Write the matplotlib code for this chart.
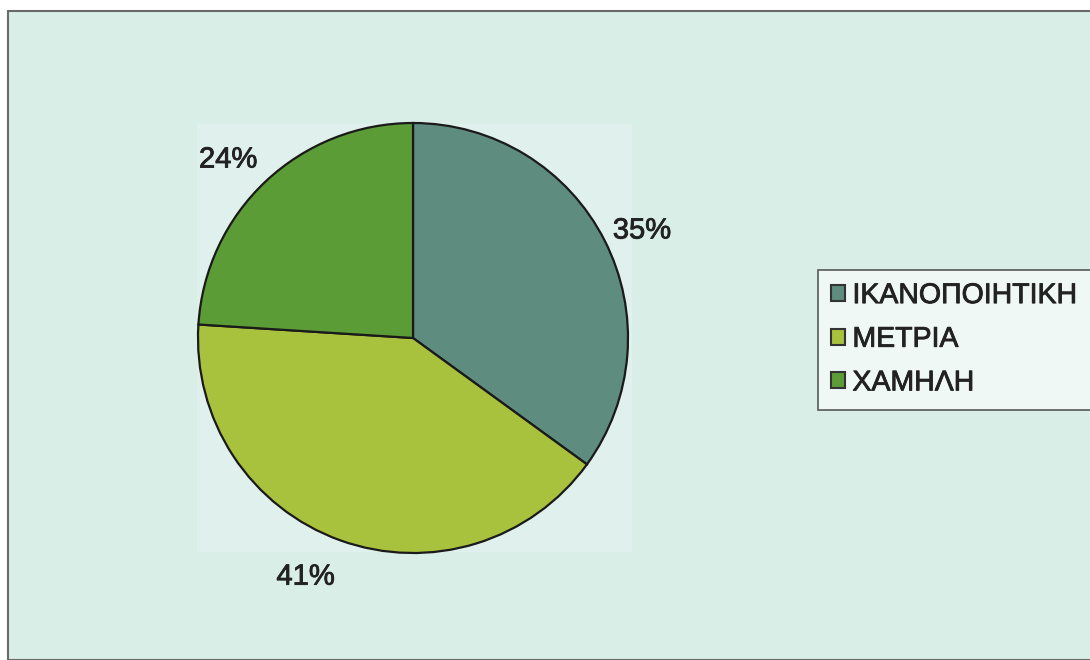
import matplotlib.pyplot as plt
import matplotlib.patheffects as pe
from matplotlib.patches import Rectangle

plt.rcParams['font.family'] = ['Liberation Sans', 'DejaVu Sans']

# ------ data -----
labels = ['ΙΚΑΝΟΠΟΙΗΤΙΚΗ', 'ΜΕΤΡΙΑ', 'ΧΑΜΗΛΗ']
shares = [35, 41, 24]
colors = ['#5e8c7e', '#a8c23e', '#5c9c36']
# where each % label sits, in pie-radius units
label_xy = [(1.065, 0.50), (-0.50, -1.11), (-0.86, 0.83)]

W, H = 1090, 660
fig = plt.figure(figsize=(W/100, H/100), dpi=100, facecolor='white')
semibold = [pe.withStroke(linewidth=0.6, foreground='#222222')]

# chart area (mint background with grey frame, runs off right/bottom)
fig.patches.append(Rectangle((8/W, 0), 1.2, 1 - 11/H, transform=fig.transFigure,
                             facecolor='#d8eee7', edgecolor='#6a6a6a', linewidth=1.5,
                             zorder=-2))
# slightly lighter plot area behind the pie
fig.patches.append(Rectangle((197/W, 1 - 552/H), 435/W, 428/H, transform=fig.transFigure,
                             facecolor='#e0f0ec', edgecolor='none', zorder=-1))

# pie: centre (413, 338) px, radius 215 px
r = 215
ax = fig.add_axes([(413 - r)/W, (H - 338 - r)/H, 2*r/W, 2*r/H])
ax.set_zorder(1)
wedges, _, autotexts = ax.pie(shares, colors=colors, startangle=90, counterclock=False,
                              autopct='%d%%', pctdistance=1.2, radius=1,
                              wedgeprops=dict(edgecolor='#1a1a1a', linewidth=1.6))
for t, xy in zip(autotexts, label_xy):
    t.set_position(xy)
    t.set_fontsize(21)
    t.set_color('#222222')
    t.set_path_effects(semibold)
ax.set_xlim(-1, 1)
ax.set_ylim(-1, 1)
ax.set_aspect('auto')
ax.axis('off')

leg = fig.legend(wedges, labels, loc='upper left',
                 bbox_to_anchor=(818/W, 1 - 270/H), borderaxespad=0,
                 fontsize=20.5, frameon=True, fancybox=False,
                 handlelength=0.5, handleheight=0.5, handletextpad=0.25,
                 labelspacing=0.62, borderpad=0.46)
leg.set_zorder(2)
leg.get_frame().set_edgecolor('#333333')
leg.get_frame().set_facecolor('#f6fbf9')
leg.get_frame().set_linewidth(1.2)
for h in leg.legend_handles:
    h.set_edgecolor('#333333')
    h.set_linewidth(1.5)
for t in leg.get_texts():
    t.set_color('#222222')
    t.set_path_effects(semibold)

fig.savefig('out.png', dpi=100, facecolor='white')
